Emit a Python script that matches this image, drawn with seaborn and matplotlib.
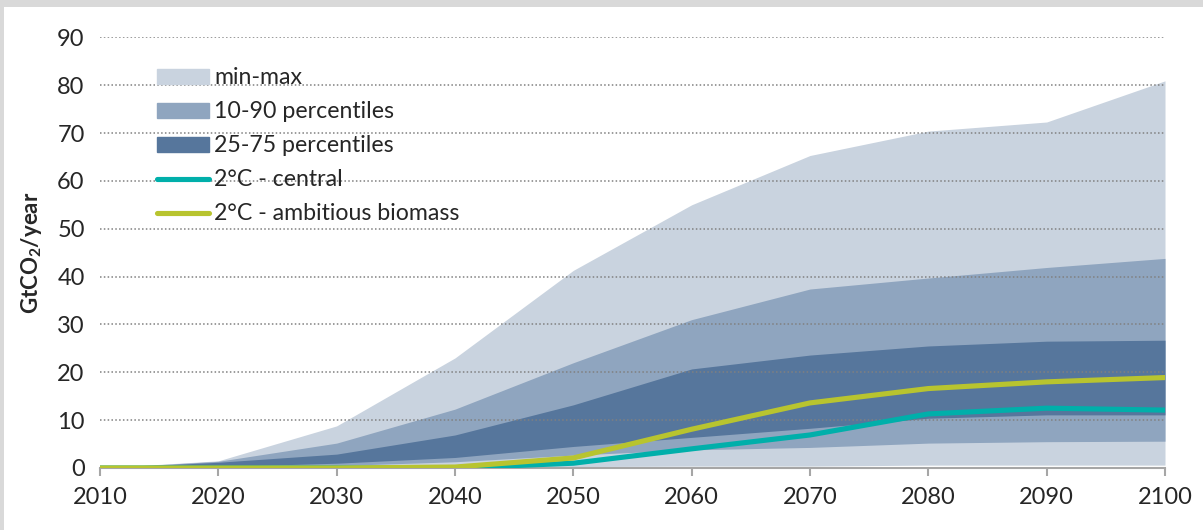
import pandas as pd
import matplotlib.pyplot as plt
import matplotlib.patches as mpatches
from matplotlib.lines import Line2D
import seaborn as sns

# data (GtCO2/year)
years = [2010, 2020, 2030, 2040, 2050, 2060, 2070, 2080, 2090, 2100]
min_v = [0, 0, 0, 0, 0.3, 0.4, 0.4, 0.6, 0.6, 0.6]
max_v = [0, 1.5, 8.8, 23.0, 41.3, 55.0, 65.3, 70.4, 72.3, 80.9]
p10 = [0, 0.1, 0.5, 1.3, 2.7, 3.8, 4.3, 5.2, 5.5, 5.6]
p90 = [0, 1.4, 5.2, 12.3, 22.0, 31.0, 37.4, 39.7, 41.9, 43.8]
p25 = [0, 0.3, 1.0, 2.2, 4.5, 6.4, 8.3, 10.4, 11.1, 11.1]
p75 = [0, 1.2, 2.9, 6.9, 13.2, 20.7, 23.6, 25.5, 26.5, 26.7]
central = [0, 0, 0, 0, 1.0, 4.0, 6.9, 11.3, 12.5, 12.1]
ambitious = [0, 0, 0, 0.2, 2.1, 8.1, 13.6, 16.6, 18.0, 18.9]

c_light = '#C9D3DF'
c_mid = '#8FA5BF'
c_dark = '#56769C'
c_central = '#00AFAA'
c_amb = '#B8C42F'

sns.set_style('white')
plt.rcParams['font.family'] = ['Lato', 'DejaVu Sans']
plt.rcParams['mathtext.fontset'] = 'custom'
plt.rcParams['mathtext.rm'] = 'Lato'
plt.rcParams['mathtext.bf'] = 'Lato:bold'

lines = pd.DataFrame({
    'year': years * 2,
    'value': central + ambitious,
    'series': ['2°C - central'] * len(years) + ['2°C - ambitious biomass'] * len(years),
})

fig = plt.figure(figsize=(12.03, 5.3), dpi=100)
fig.patch.set_facecolor('#D9D9D9')
fig.add_artist(mpatches.Rectangle((4 / 1203, 0), 1, 1 - 7 / 530, transform=fig.transFigure,
                                  facecolor='white', edgecolor='none', zorder=-5))
ax = fig.add_axes([100 / 1203, 62 / 530, 1065 / 1203, (468 - 37.3) / 530])
ax.set_facecolor('none')

ax.fill_between(years, min_v, max_v, color=c_light, lw=0, zorder=1)
ax.fill_between(years, p10, p90, color=c_mid, lw=0, zorder=1.1)
ax.fill_between(years, p25, p75, color=c_dark, lw=0, zorder=1.2)

sns.lineplot(data=lines, x='year', y='value', hue='series',
             palette=[c_central, c_amb], linewidth=3.7, legend=False, ax=ax, zorder=3)

ax.set_xlim(2010, 2100)
ax.set_ylim(0, 90)
ax.set_xticks(years)
ax.set_yticks(range(0, 100, 10))
ax.yaxis.grid(True, linestyle=(0, (1, 1.5)), color='#808080', linewidth=1.1)
ax.set_axisbelow(False)
for g in ax.get_ygridlines():
    g.set_zorder(2)
ax.get_ygridlines()[0].set_visible(False)

for s in ['top', 'right', 'left']:
    ax.spines[s].set_visible(False)
ax.spines['bottom'].set_color('#A6A6A6')
ax.spines['bottom'].set_linewidth(1.5)
ax.spines['bottom'].set_zorder(2.5)
ax.tick_params(axis='x', bottom=True, length=6, width=1.5, color='#A6A6A6',
               pad=8, labelsize=17, direction='out')
ax.tick_params(axis='y', left=False, length=0, pad=11, labelsize=17)
ax.set_xlabel('')
ax.set_ylabel(r'GtCO$_\mathbf{2}$/year', fontsize=16, fontweight='bold')
ax.yaxis.set_label_coords(-0.053, 0.5)

handles = [
    mpatches.Patch(color=c_light, label='min-max'),
    mpatches.Patch(color=c_mid, label='10-90 percentiles'),
    mpatches.Patch(color=c_dark, label='25-75 percentiles'),
    Line2D([], [], color=c_central, lw=3.7, solid_capstyle='round', label='2°C - central'),
    Line2D([], [], color=c_amb, lw=3.7, solid_capstyle='round', label='2°C - ambitious biomass'),
]
ax.legend(handles=handles, loc='upper left', bbox_to_anchor=(0.0535, 0.930),
          frameon=False, fontsize=16.7, handlelength=2.25, handleheight=0.62,
          handletextpad=0.22, labelspacing=0.56, borderpad=0, borderaxespad=0)

fig.savefig('out.png', dpi=100, facecolor=fig.get_facecolor())
